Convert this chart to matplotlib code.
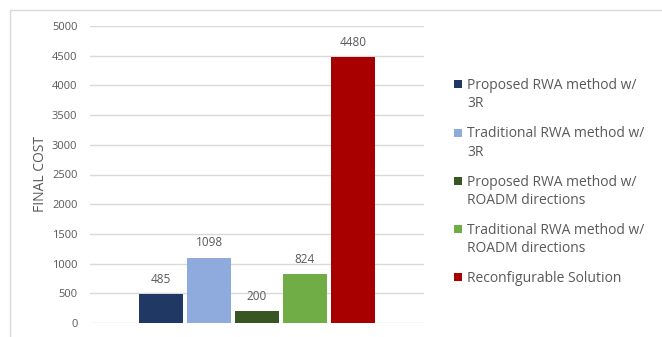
import matplotlib
matplotlib.use("Agg")
import matplotlib.pyplot as plt
from matplotlib.patches import Rectangle
import numpy as np

plt.rcParams['font.family'] = ['Open Sans', 'DejaVu Sans']

series = [
    "Proposed RWA method w/\n3R",
    "Traditional RWA method w/\n3R",
    "Proposed RWA method w/\nROADM directions",
    "Traditional RWA method w/\nROADM directions",
    "Reconfigurable Solution",
]
values = [485, 1098, 200, 824, 4480]
colors = ["#203864", "#8FAADC", "#375623", "#70AD47", "#A80000"]
yticks = [0, 500, 1000, 1500, 2000, 2500, 3000, 3500, 4000, 4500, 5000]

W, H = 662, 337
fig = plt.figure(figsize=(W / 100, H / 100), dpi=100)


def fx(px):
    return px / W


def fy(py):
    return (H - py) / H


# light frame around the chart area
fig.patches.append(Rectangle((fx(10), -0.1), 1.2, fy(10) + 0.1,
                             transform=fig.transFigure, fill=False,
                             edgecolor="#D9D9D9", linewidth=1.0))

ax = fig.add_axes([fx(90), fy(323), fx(424) - fx(90), fy(26) - fy(323)])

step = 0.1437
width = 0.132
n = len(values)
for i, (v, c) in enumerate(zip(values, colors)):
    x = (i - (n - 1) / 2) * step
    ax.bar(x, v, width=width, color=c, zorder=3)
    ax.text(x, v + 140, f"{v}", ha="center", va="bottom",
            fontsize=8.5, color="#595959")

ax.set_xlim(-0.5, 0.5)
ax.set_ylim(0, 5000)
ax.set_yticks(yticks)
ax.set_xticks([])
ax.grid(axis="y", color="#D9D9D9", linewidth=1.0, zorder=0)
ax.set_axisbelow(True)
for s in ax.spines.values():
    s.set_visible(False)
ax.tick_params(axis="y", length=0, pad=9, labelsize=8, labelcolor="#595959")
ax.set_ylabel("FINAL COST", fontsize=10, color="#595959", labelpad=3)

# legend: square swatch beside the first line of each (wrapped) label
line_step = 18.3
entry_gap = 30.0
baseline = 89.0
sw = 8.0
for lab, c in zip(series, colors):
    lines = lab.split("\n")
    cy = baseline - 4.8
    fig.patches.append(Rectangle((fx(453.5), fy(cy + sw / 2)), sw / W, sw / H,
                                 transform=fig.transFigure, facecolor=c,
                                 edgecolor="none"))
    for k, ln in enumerate(lines):
        fig.text(fx(467), fy(baseline + k * line_step), ln, ha="left",
                 va="baseline", fontsize=10, color="#595959")
    baseline += (len(lines) - 1) * line_step + entry_gap

fig.savefig("out.png", dpi=100)
